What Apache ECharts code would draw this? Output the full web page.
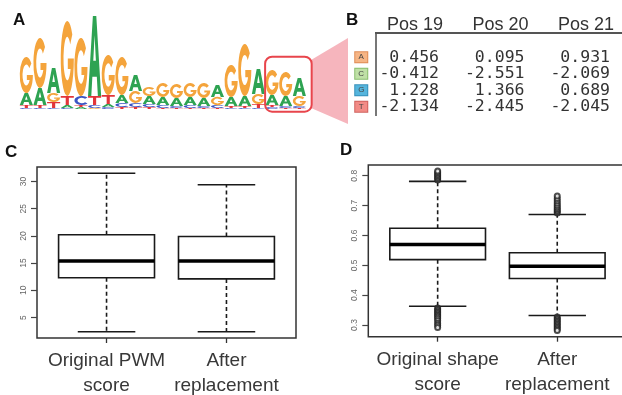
<!DOCTYPE html>
<html><head><meta charset="utf-8">
<script src="https://cdn.jsdelivr.net/npm/echarts@6/dist/echarts.min.js"></script>
<style>html,body{margin:0;padding:0;background:#fff}#c{width:622px;height:395px}</style>
</head><body><div id="c"></div>
<script>
// ---- Panel A: sequence logo (information, bits) ----
const logoPositions = [1,2,3,4,5,6,7,8,9,10,11,12,13,14,15,16,17,18,19,20,21];
const logoA = [0.24,0.34,0.50,0.06,0.04,1.60,0.06,0.16,0.32,0.16,0.16,0.16,0.16,0.16,0.24,0.18,0.20,0.50,0.20,0.20,0.36];
const logoC = [0.02,0.02,0.02,0.02,0.18,0.06,0.04,0.08,0.08,0.06,0.06,0.04,0.06,0.04,0.06,0.02,0.02,0.02,0.04,0.04,0.04];
const logoG = [0.72,1.00,0.18,1.50,1.16,0.02,0.80,0.76,0.24,0.18,0.28,0.28,0.28,0.30,0.16,0.64,1.04,0.20,0.50,0.48,0.20];
const logoT = [0.06,0.06,0.12,0.18,0.04,0.18,0.18,0.04,0.04,0.04,0.02,0.02,0.02,0.02,0.02,0.04,0.04,0.08,0.04,0.02,0.02];
const highlightRange = [18.49, 21.9, -0.054, 1.046];

// ---- Panel B: PWM table ----
const tablePos = ['Pos 19','Pos 20','Pos 21'];
const tableBases = ['A','C','G','T'];
const pos19 = [0.456,-0.412,1.228,-2.134];
const pos20 = [0.095,-2.551,1.366,-2.445];
const pos21 = [0.931,-2.069,0.689,-2.045];

// ---- Panel C: PWM score boxplots [low whisker, Q1, median, Q3, high whisker] ----
const pwmCats = ['Original PWM\nscore','After\nreplacement'];
const pwmOriginal = [2.4,12.3,15.4,20.2,31.5];
const pwmAfter = [2.4,12.1,15.4,19.9,29.4];
const pwmTicks = [5,10,15,20,25,30];

// ---- Panel D: shape score boxplots ----
const shapeCats = ['Original shape\nscore','After\nreplacement'];
const shapeOriginal = [0.363,0.519,0.570,0.624,0.781];
const shapeAfter = [0.332,0.456,0.497,0.542,0.670];
const shapeTicks = [0.3,0.4,0.5,0.6,0.7,0.8];
const shapeOrigOutHigh = [0.786,0.791,0.796,0.801,0.806,0.811,0.816];
const shapeOrigOutLow = [0.357,0.352,0.347,0.342,0.337,0.332,0.327,0.321,0.314,0.306,0.299,0.292];
const shapeAfterOutHigh = [0.675,0.680,0.685,0.690,0.696,0.702,0.709,0.716,0.724,0.732];
const shapeAfterOutLow = [0.327,0.322,0.317,0.312,0.307,0.302,0.297,0.292,0.287,0.282];

const glyph = {
  A: 'M0,100 L37,0 L63,0 L100,100 L75,100 L67,76 L33,76 L25,100 Z M40,56 L60,56 L50,24 Z',
  C: 'M88.30,17.86 A50,50 0 1 0 88.30,82.14 L72.21,68.64 A29,29 0 1 1 72.21,31.36 Z',
  G: 'M88.30,17.86 A50,50 0 1 0 100,50 L54,50 L54,64 L75.4,64 A29,29 0 1 1 72.21,31.36 Z',
  T: 'M0,0 L100,0 L100,20 L62,20 L62,100 L38,100 L38,20 L0,20 Z'
};
const baseColor = {A:'#2ea352', C:'#3b55c4', G:'#f4a43c', T:'#e2343a'};

const chart = echarts.init(document.getElementById('c'), null, {renderer:'canvas'});
const FONT = '"Liberation Sans", Arial, Helvetica, sans-serif';

function boxRender(params, api) {
  const x = api.value(0);
  const lo = api.value(1), q1 = api.value(2), md = api.value(3), q3 = api.value(4), hi = api.value(5);
  const bl = api.coord([x-0.4, q3]), br = api.coord([x+0.4, q1]);
  const cl = api.coord([x-0.24, hi])[0], cr = api.coord([x+0.24, hi])[0];
  const cx = api.coord([x, md])[0];
  const yHi = api.coord([x, hi])[1], yLo = api.coord([x, lo])[1];
  const yQ1 = api.coord([x, q1])[1], yQ3 = api.coord([x, q3])[1], yMd = api.coord([x, md])[1];
  const s = {stroke:'#1a1a1a', lineWidth:1.6, fill:null};
  const d = {stroke:'#1a1a1a', lineWidth:1.6, lineDash:[4,3]};
  return {type:'group', children:[
    {type:'line', shape:{x1:cx,y1:yQ3,x2:cx,y2:yHi}, style:d},
    {type:'line', shape:{x1:cx,y1:yQ1,x2:cx,y2:yLo}, style:d},
    {type:'line', shape:{x1:cl,y1:yHi,x2:cr,y2:yHi}, style:s},
    {type:'line', shape:{x1:cl,y1:yLo,x2:cr,y2:yLo}, style:s},
    {type:'rect', shape:{x:bl[0], y:yQ3, width:br[0]-bl[0], height:yQ1-yQ3}, style:{stroke:'#1a1a1a', lineWidth:1.6, fill:'#fff'}},
    {type:'line', shape:{x1:bl[0],y1:yMd,x2:br[0],y2:yMd}, style:{stroke:'#000', lineWidth:3.6}}
  ]};
}

function boxAxes(cats, ticks, fmt, lblMargin) {
  return {
    x: {type:'value', min:0.42, max:2.58, splitLine:{show:false}, axisLine:{show:false},
      axisTick:{show:true, customValues:[1,2], length:5, lineStyle:{color:'#333', width:1.3}},
      axisLabel:{show:true, customValues:[1,2], formatter:v=>cats[Math.round(v)-1], fontFamily:FONT, fontSize:19, lineHeight:24.5, color:'#383838', margin:11}},
    y: {type:'value', splitLine:{show:false}, axisLine:{show:false},
      axisTick:{show:true, customValues:ticks, length:6, lineStyle:{color:'#444', width:1.2}},
      axisLabel:{show:true, customValues:ticks, rotate:90, formatter:fmt, fontFamily:FONT, fontSize:8.5, color:'#666', margin:lblMargin}}
  };
}
const cAx = boxAxes(pwmCats, pwmTicks, v=>String(v), 9);
const dAx = boxAxes(shapeCats, shapeTicks, v=>v.toFixed(1), 9);

const logoData = logoPositions.map((p,i)=>[p, logoA[i], logoC[i], logoG[i], logoT[i]]);
const tableCells = [];
[pos19,pos20,pos21].forEach((col,ci)=>col.forEach((v,ri)=>tableCells.push([ci,ri,v])));

const richBases = {
  A:{backgroundColor:'#f6b585', borderColor:'#e08c55'},
  C:{backgroundColor:'#bfe0a6', borderColor:'#88bd6c'},
  G:{backgroundColor:'#55b5dd', borderColor:'#3590bb'},
  T:{backgroundColor:'#f28b86', borderColor:'#d0605c'}
};
Object.values(richBases).forEach(r=>Object.assign(r,{borderWidth:1, width:12, height:10, lineHeight:10, align:'center', fontSize:8, color:'#444', fontFamily:FONT}));

const gridBase = {outerBoundsMode:'none', containLabel:false};
chart.setOption({
  animation:false,
  backgroundColor:'#fff',
  grid:[
    Object.assign({left:19.5, top:9, width:286.7, height:100}, gridBase),
    Object.assign({left:396.25, top:49, width:256.5, height:66}, gridBase),
    Object.assign({left:37, top:167, width:259, height:171, show:true, borderColor:'#333', borderWidth:1.5, backgroundColor:'transparent'}, gridBase),
    Object.assign({left:368.3, top:165, width:258.3, height:171.7, show:true, borderColor:'#333', borderWidth:1.5, backgroundColor:'transparent'}, gridBase)
  ],
  xAxis:[
    {gridIndex:0, type:'value', min:0.5, max:21.5, show:false},
    {gridIndex:1, type:'category', data:tablePos, position:'top', axisLine:{show:false}, axisTick:{show:false},
      axisLabel:{align:'right', fontFamily:FONT, fontSize:18, color:'#333', margin:14.5, padding:[0,-4,0,0]}},
    Object.assign({gridIndex:2}, cAx.x),
    Object.assign({gridIndex:3}, dAx.x)
  ],
  yAxis:[
    {gridIndex:0, type:'value', min:0, max:2, show:false},
    {gridIndex:1, type:'category', data:tableBases, inverse:true, axisLine:{show:false}, axisTick:{show:false},
      axisLabel:{margin:29, formatter:v=>'{'+v+'|'+v+'}', rich:richBases}},
    Object.assign({gridIndex:2, min:1.24, max:32.66}, cAx.y),
    Object.assign({gridIndex:3, min:0.261, max:0.836}, dAx.y)
  ],
  graphic:[
    {type:'polygon', z:0, shape:{points:[[311,60],[348,38],[348,124],[311,108]]}, style:{fill:'#f6b5bd'}},
    {type:'line', shape:{x1:375,y1:33,x2:622,y2:33}, style:{stroke:'#555', lineWidth:2}},
    {type:'line', shape:{x1:376,y1:33,x2:376,y2:116}, style:{stroke:'#555', lineWidth:1.6}},
    {type:'text', x:13, y:12, style:{text:'A', font:'bold 17px '+FONT, fill:'#111'}},
    {type:'text', x:346, y:12, style:{text:'B', font:'bold 17px '+FONT, fill:'#111'}},
    {type:'text', x:5, y:144, style:{text:'C', font:'bold 17px '+FONT, fill:'#111'}},
    {type:'text', x:340, y:142, style:{text:'D', font:'bold 17px '+FONT, fill:'#111'}}
  ],
  series:[
    {type:'custom', xAxisIndex:0, yAxisIndex:0, data:logoData, renderItem:(params, api)=>{
      const i = api.value(0);
      const vals = [['A',api.value(1)],['C',api.value(2)],['G',api.value(3)],['T',api.value(4)]].sort((a,b)=>a[1]-b[1]);
      let cum = 0; const children = [];
      for (const [b,h] of vals) {
        if (h <= 0) continue;
        const p0 = api.coord([i-0.48, cum]), p1 = api.coord([i+0.48, cum+h]);
        children.push({type:'path', shape:{pathData:glyph[b], x:p0[0], y:p1[1], width:p1[0]-p0[0], height:Math.max(0.6,p0[1]-p1[1]), layout:'cover'}, style:{fill:baseColor[b]}});
        cum += h;
      }
      return {type:'group', children};
    }},
    {type:'custom', xAxisIndex:0, yAxisIndex:0, z:5, data:[highlightRange], renderItem:(params, api)=>{
      const a = api.coord([api.value(0), api.value(3)]), b = api.coord([api.value(1), api.value(2)]);
      return {type:'rect', shape:{x:a[0], y:a[1], width:b[0]-a[0], height:b[1]-a[1], r:7}, style:{fill:null, stroke:'#e8454c', lineWidth:2}};
    }},
    {type:'custom', xAxisIndex:1, yAxisIndex:1, data:tableCells, renderItem:(params, api)=>{
      const p = api.coord([api.value(0), api.value(1)]);
      return {type:'text', x:p[0], y:p[1], style:{text:api.value(2).toFixed(3), font:'16.5px "DejaVu Sans Mono", monospace', fill:'#333', align:'right', verticalAlign:'middle'}};
    }},
    {type:'custom', xAxisIndex:2, yAxisIndex:2, data:[[1].concat(pwmOriginal),[2].concat(pwmAfter)], renderItem:boxRender},
    {type:'custom', xAxisIndex:3, yAxisIndex:3, data:[[1].concat(shapeOriginal),[2].concat(shapeAfter)], renderItem:boxRender},
    {type:'scatter', xAxisIndex:3, yAxisIndex:3, symbol:'emptyCircle', symbolSize:5, z:6,
      itemStyle:{color:'#222', borderColor:'#222', borderWidth:0.8},
      data:shapeOrigOutHigh.concat(shapeOrigOutLow).map(v=>[1,v]).concat(shapeAfterOutHigh.concat(shapeAfterOutLow).map(v=>[2,v]))}
  ]
});
</script></body></html>
